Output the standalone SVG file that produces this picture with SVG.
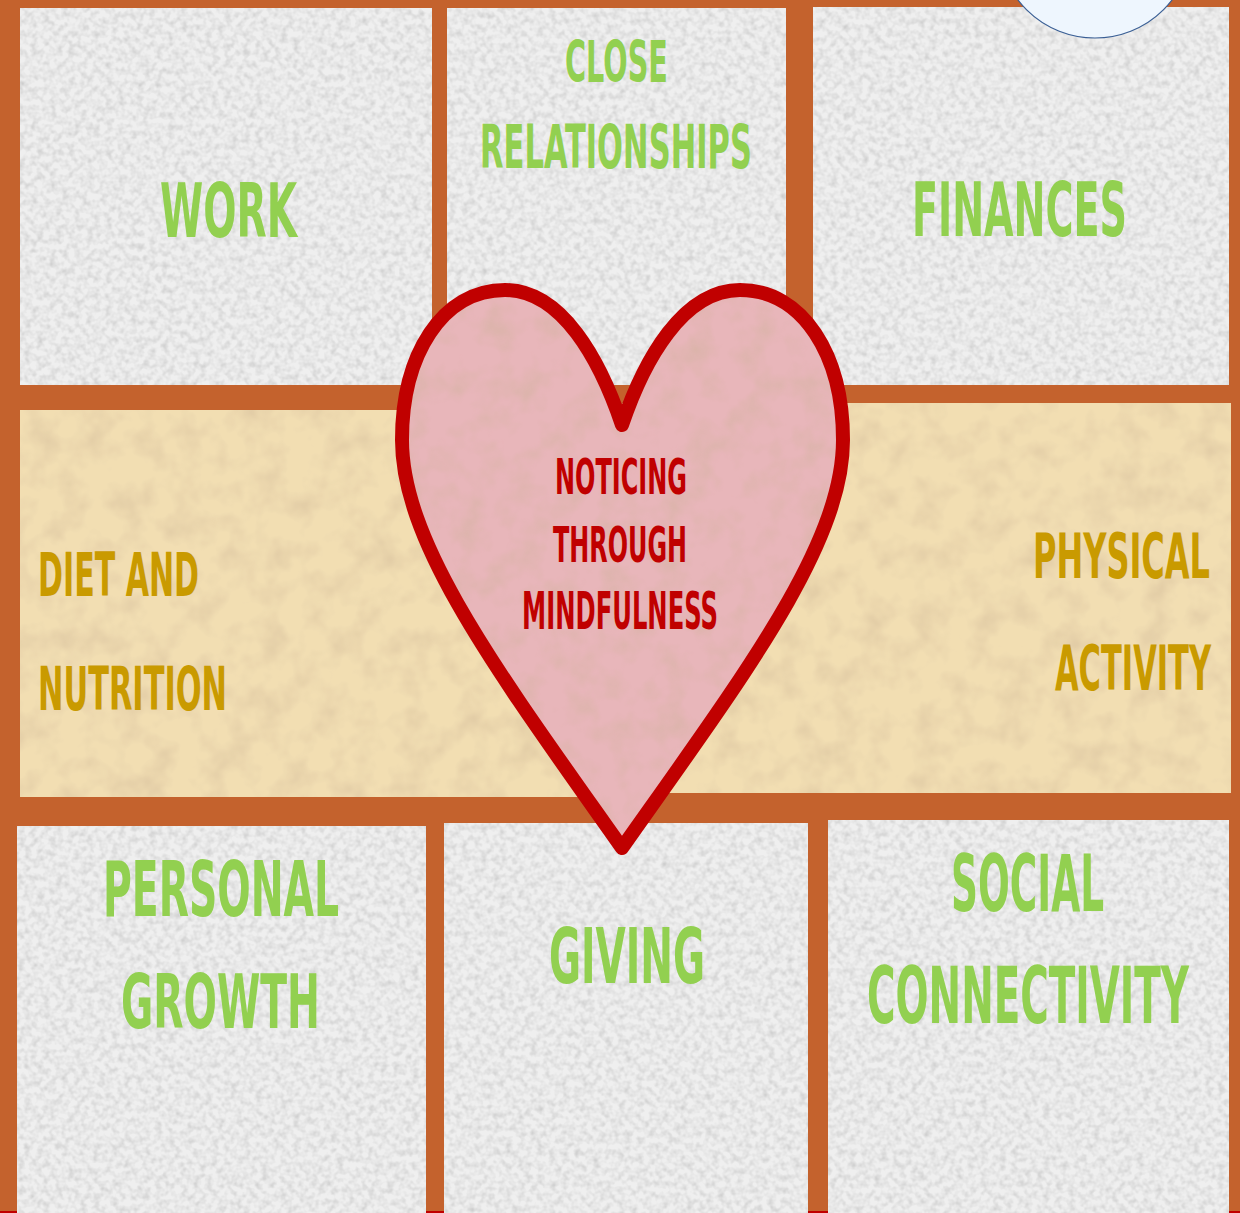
<svg xmlns="http://www.w3.org/2000/svg" width="1240" height="1213" viewBox="0 0 1240 1213">
  <defs>
    <!-- paper grain laid over the tiles -->
    <filter id="grain" x="0" y="0" width="100%" height="100%">
      <feTurbulence type="fractalNoise" baseFrequency="0.16" numOctaves="2" seed="7" result="noise"/>
      <feColorMatrix in="noise" type="matrix" values="0 0 0 0 0.45  0 0 0 0 0.45  0 0 0 0 0.45  1.1 0 0 0 -0.42" result="dots"/>
      <feComposite in="dots" in2="SourceGraphic" operator="in" result="clipped"/>
      <feMerge><feMergeNode in="SourceGraphic"/><feMergeNode in="clipped"/></feMerge>
    </filter>
    <filter id="grainSoft" x="0" y="0" width="100%" height="100%">
      <feTurbulence type="fractalNoise" baseFrequency="0.035" numOctaves="3" seed="2" result="noise"/>
      <feColorMatrix in="noise" type="matrix" values="0 0 0 0 0.6  0 0 0 0 0.45  0 0 0 0 0.3  0.9 0 0 0 -0.38" result="dots"/>
      <feComposite in="dots" in2="SourceGraphic" operator="in" result="clipped"/>
      <feMerge><feMergeNode in="SourceGraphic"/><feMergeNode in="clipped"/></feMerge>
    </filter>
    <style>
      .tile { fill: #EFEFEF; filter: url(#grain); }
      .band { fill: #F2DEB2; filter: url(#grainSoft); }
      .lbl { font-family: "DejaVu Sans Condensed", "Liberation Sans Narrow", "Liberation Sans", sans-serif; font-weight: bold; }
      .green { fill: #92D050; }
      .gold { fill: #C99A00; }
      .red { fill: #C00000; }
    </style>
  </defs>

  <!-- frame -->
  <rect x="0" y="0" width="1240" height="1213" fill="#C4622D"/>
  <rect x="0" y="1211" width="1240" height="2" fill="#C00000"/>

  <!-- top row -->
  <g id="work">
    <rect class="tile" x="20" y="8" width="412" height="377"/>
    <text class="lbl green" transform="translate(160,237) scale(1,1.5)" font-size="50" textLength="137" lengthAdjust="spacingAndGlyphs">WORK</text>
  </g>
  <g id="close-relationships">
    <rect class="tile" x="447" y="8" width="339" height="377"/>
    <text class="lbl green" transform="translate(565,82) scale(1,1.9)" font-size="30" textLength="103" lengthAdjust="spacingAndGlyphs">CLOSE</text>
    <text class="lbl green" transform="translate(480,168) scale(1,2)" font-size="30" textLength="272" lengthAdjust="spacingAndGlyphs">RELATIONSHIPS</text>
  </g>
  <g id="finances">
    <rect class="tile" x="813" y="7" width="416" height="378"/>
    <text class="lbl green" transform="translate(912,236) scale(1,1.94)" font-size="39" textLength="215" lengthAdjust="spacingAndGlyphs">FINANCES</text>
  </g>

  <!-- badge peeking in at the top edge -->
  <circle cx="1095" cy="-59" r="97" fill="#EEF6FE" stroke="#3A5F95" stroke-width="1.2"/>

  <!-- middle band -->
  <g id="diet-and-nutrition">
    <rect class="band" x="20" y="410" width="602" height="387"/>
    <text class="lbl gold" transform="translate(38,596) scale(1,1.94)" font-size="31" textLength="161" lengthAdjust="spacingAndGlyphs">DIET AND</text>
    <text class="lbl gold" transform="translate(38,710) scale(1,2.04)" font-size="30" textLength="189" lengthAdjust="spacingAndGlyphs">NUTRITION</text>
  </g>
  <g id="physical-activity">
    <rect class="band" x="622" y="403" width="609" height="390"/>
    <text class="lbl gold" transform="translate(1033,578) scale(1,1.94)" font-size="32" textLength="177" lengthAdjust="spacingAndGlyphs">PHYSICAL</text>
    <text class="lbl gold" transform="translate(1055,690) scale(1,2.2)" font-size="28" textLength="156" lengthAdjust="spacingAndGlyphs">ACTIVITY</text>
  </g>

  <!-- bottom row -->
  <g id="personal-growth">
    <rect class="tile" x="17" y="826" width="409" height="387"/>
    <text class="lbl green" transform="translate(103,916) scale(1,1.77)" font-size="43" textLength="236" lengthAdjust="spacingAndGlyphs">PERSONAL</text>
    <text class="lbl green" transform="translate(121,1028) scale(1,1.57)" font-size="48" textLength="199" lengthAdjust="spacingAndGlyphs">GROWTH</text>
  </g>
  <g id="giving">
    <rect class="tile" x="444" y="823" width="364" height="390"/>
    <text class="lbl green" transform="translate(549,983) scale(1,2)" font-size="38" textLength="156" lengthAdjust="spacingAndGlyphs">GIVING</text>
  </g>
  <g id="social-connectivity">
    <rect class="tile" x="828" y="820" width="401" height="393"/>
    <text class="lbl green" transform="translate(951,911) scale(1,2.1)" font-size="37" textLength="153" lengthAdjust="spacingAndGlyphs">SOCIAL</text>
    <text class="lbl green" transform="translate(867,1023) scale(1,1.99)" font-size="39" textLength="322" lengthAdjust="spacingAndGlyphs">CONNECTIVITY</text>
  </g>

  <!-- centre heart: textured fill, then a clean outline on top -->
  <g id="mindfulness-heart">
    <path d="M622,425 C600,360 562,290 505,290 C442,290 402,355 402,440 C402,545 500,675 622,848 C744,675 843,545 843,440 C843,355 803,290 740,290 C683,290 644,360 622,425 Z"
          fill="#E8B6BA" filter="url(#grainSoft)"/>
    <path d="M622,425 C600,360 562,290 505,290 C442,290 402,355 402,440 C402,545 500,675 622,848 C744,675 843,545 843,440 C843,355 803,290 740,290 C683,290 644,360 622,425 Z"
          fill="none" stroke="#C00000" stroke-width="14" stroke-linejoin="round"/>
    <text class="lbl red" transform="translate(555,494) scale(1,2.1)" font-size="24" textLength="132" lengthAdjust="spacingAndGlyphs">NOTICING</text>
    <text class="lbl red" transform="translate(553,562) scale(1,1.8)" font-size="28" textLength="134" lengthAdjust="spacingAndGlyphs">THROUGH</text>
    <text class="lbl red" transform="translate(522,629) scale(1,2)" font-size="26" textLength="196" lengthAdjust="spacingAndGlyphs">MINDFULNESS</text>
  </g>
</svg>
